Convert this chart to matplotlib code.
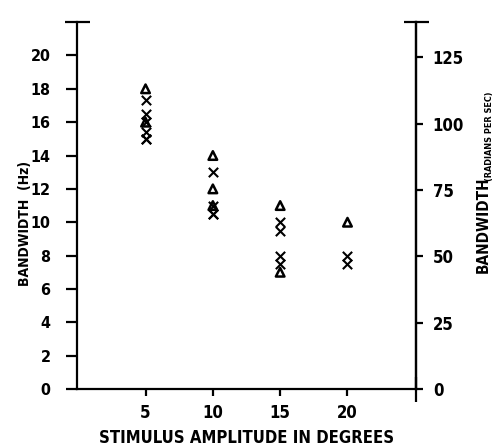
import numpy as np
import matplotlib
matplotlib.use("Agg")
import matplotlib.pyplot as plt
from matplotlib.ticker import FixedLocator

# readings
amp_x = [5, 5, 5, 5, 5, 5, 10, 10, 10, 10, 15, 15, 15, 15, 20, 20]
bw_x = [17.3, 16.5, 16.0, 15.4, 15.0, 15.0, 13.0, 11.0, 10.5, 10.5, 10.0, 9.5, 8.0, 7.5, 8.0, 7.5]
amp_tri = [5, 5, 10, 10, 10, 15, 15, 20]
bw_tri = [18.0, 16.0, 14.0, 12.0, 11.0, 11.0, 7.0, 10.0]

x_ticks = [5, 10, 15, 20]
hz_ticks = [0, 2, 4, 6, 8, 10, 12, 14, 16, 18, 20]
rad_ticks = [0, 25, 50, 75, 100, 125]
rad_labels = ["0", "25", "50", "75", "100", "125"]

plt.rcParams['font.family'] = ['DejaVu Sans']
plt.rcParams['font.stretch'] = 'condensed'
plt.rcParams['font.weight'] = 'bold'

fig = plt.figure(figsize=(4.96, 4.48), dpi=100)
ax = fig.add_axes([0.155, 0.1317, 0.684, 0.819])

ax.scatter(amp_x, bw_x, marker='x', s=45, c='black', linewidths=1.5, zorder=3)
ax.scatter(amp_tri, bw_tri, marker='^', s=38, facecolors='none', edgecolors='black',
           linewidths=1.8, zorder=3)

ax.set_xlim(-0.1, 25.1)
ax.set_ylim(0, 22)
ax.spines['top'].set_visible(False)
for s in ['left', 'right', 'bottom']:
    ax.spines[s].set_linewidth(1.6)

ax.set_xticks(x_ticks)
ax.set_xticklabels([str(v) for v in x_ticks], fontsize=12, fontweight='bold')
ax.tick_params(axis='x', direction='out', length=5, width=1.6, pad=6)
ax.xaxis.set_minor_locator(FixedLocator([25.1]))
ax.tick_params(axis='x', which='minor', direction='inout', length=18, width=1.6)

ax.set_yticks(hz_ticks)
ax.set_yticklabels([str(v) for v in hz_ticks], fontsize=11.5, fontweight='bold')
ax.tick_params(axis='y', direction='out', length=8, width=1.6, pad=11)
ax.yaxis.set_minor_locator(FixedLocator([22]))
ax.tick_params(axis='y', which='minor', direction='inout', length=18, width=1.6)

ax2 = ax.twinx()
ax2.set_ylim(0, 22 * 2 * np.pi)
ax2.set_yticks(rad_ticks)
ax2.set_yticklabels(rad_labels, fontsize=12, fontweight='bold')
ax2.tick_params(axis='y', direction='out', length=5, width=1.6, pad=7)
ax2.yaxis.set_minor_locator(FixedLocator([0, 22 * 2 * np.pi]))
ax2.tick_params(axis='y', which='minor', direction='inout', length=18, width=1.6)
for s in ['top', 'left', 'bottom']:
    ax2.spines[s].set_visible(False)
ax2.spines['right'].set_linewidth(1.6)

fig.text(0.05, 0.502, "BANDWIDTH  (Hz)", rotation=90, ha='center', va='center',
         fontsize=10, fontweight='bold')
fig.text(0.498, 0.011, "STIMULUS AMPLITUDE IN DEGREES", ha='center', va='baseline',
         fontsize=12, fontweight='bold')
fig.text(0.975, 0.391, "BANDWIDTH", rotation=90, ha='center', va='bottom',
         fontsize=11, fontweight='bold')
fig.text(0.986, 0.597, "(RADIANS PER SEC)", rotation=90, ha='center', va='bottom',
         fontsize=6.5, fontweight='bold')

fig.savefig("out.png", dpi=100)
